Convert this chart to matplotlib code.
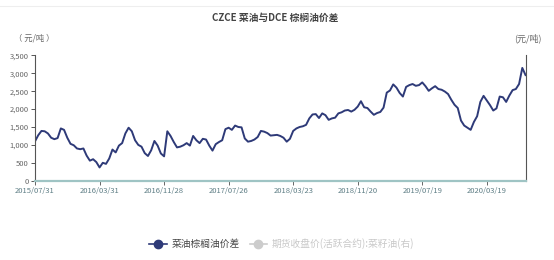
import numpy as np
import matplotlib.pyplot as plt
from matplotlib.lines import Line2D

plt.rcParams['font.family'] = ['Noto Sans CJK SC', 'DejaVu Sans']

title = 'CZCE 菜油与DCE 棕榈油价差'
unit_left = '（ 元/吨 ）'
unit_right = '(元/吨)'
series_name = '菜油棕榈油价差'
hidden_name = '期货收盘价(活跃合约):菜籽油(右)'

tick_labels = ['2015/07/31', '2016/03/31', '2016/11/28', '2017/07/26',
               '2018/03/23', '2018/11/20', '2019/07/19', '2020/03/19']
tick_step = 20

spread = [
    1100, 1270, 1390, 1380, 1320, 1200, 1160, 1190, 1460, 1420,
    1200, 1030, 990, 900, 880, 900, 700, 560, 600, 520,
    370, 500, 470, 620, 870, 790, 980, 1050, 1320, 1480,
    1380, 1130, 1000, 950, 770, 690, 850, 1110, 980, 760,
    680, 1380, 1250, 1080, 930, 950, 990, 1050, 980, 1250,
    1130, 1050, 1170, 1150, 980, 840, 1020, 1080, 1130, 1440,
    1480, 1420, 1540, 1500, 1490, 1180, 1090, 1110, 1150, 1220,
    1390, 1370, 1330, 1260, 1270, 1280, 1250, 1200, 1090, 1170,
    1390, 1460, 1500, 1520, 1560, 1740, 1850, 1860, 1750, 1880,
    1830, 1700, 1740, 1760, 1880, 1910, 1960, 1975, 1930, 1980,
    2070, 2220, 2050, 2030, 1930, 1840, 1890, 1920, 2040, 2460,
    2520, 2690, 2600, 2450, 2350, 2620, 2670, 2700, 2650, 2670,
    2745, 2640, 2510, 2580, 2640, 2560, 2540, 2490, 2420, 2260,
    2120, 2030, 1680, 1540, 1480, 1420, 1640, 1800, 2200, 2370,
    2240, 2110, 1960, 2020, 2350, 2330, 2200, 2380, 2530, 2560,
    2700, 3150, 2950,
]

navy = '#2e3a78'
axis_teal = '#9fc4c4'
text_gray = '#666666'

fig = plt.figure(figsize=(5.54, 2.60), dpi=100)
ax = fig.add_axes([0.0632, 0.305, 0.8854, 0.482])

x = np.arange(len(spread))
ax.plot(x, spread, color=navy, linewidth=1.4, solid_joinstyle='round')

ax.set_xlim(0, len(spread) - 1)
ax.set_ylim(0, 3500)
ax.set_yticks(np.arange(0, 3501, 500))
ax.set_yticklabels(['{:,}'.format(v) for v in range(0, 3501, 500)])
ax.set_xticks(np.arange(len(tick_labels)) * tick_step)
ax.set_xticklabels(tick_labels)

ax.spines['top'].set_visible(False)
ax.spines['left'].set_color('#555555')
ax.spines['left'].set_linewidth(0.8)
ax.spines['right'].set_color('#555555')
ax.spines['right'].set_linewidth(0.8)
ax.spines['bottom'].set_color(axis_teal)
ax.spines['bottom'].set_linewidth(1.6)

ax.tick_params(axis='y', length=3, width=0.7, color='#555555',
               labelsize=5.5, labelcolor=text_gray, pad=1.5)
ax.tick_params(axis='x', length=3, width=0.7, color='#666666',
               labelsize=5.5, labelcolor='#5f7f86', pad=1.5)

fig.text(0.497, 0.93, title, ha='center', va='center', fontsize=7,
         fontweight='bold', color='#444444')
fig.text(0.062, 0.853, unit_left, ha='center', va='center', fontsize=6, color=text_gray)
fig.text(0.952, 0.853, unit_right, ha='center', va='center', fontsize=6.5, color=text_gray)

fig.add_artist(Line2D([0, 1], [0.977, 0.977], color='#eeeeee', linewidth=0.8))

handles = [
    Line2D([], [], color=navy, marker='o', markersize=6, linewidth=1.2),
    Line2D([], [], color='#cccccc', marker='o', markersize=6, linewidth=1.2),
]
leg = fig.legend(handles, [series_name, hidden_name], loc='center',
                 bbox_to_anchor=(0.509, 0.062), ncol=2, frameon=False,
                 fontsize=7, handlelength=1.8, handletextpad=0.5,
                 columnspacing=1.0)
leg.get_texts()[0].set_color('#444444')
leg.get_texts()[1].set_color('#c8c8c8')

fig.savefig('out.png', dpi=100)
